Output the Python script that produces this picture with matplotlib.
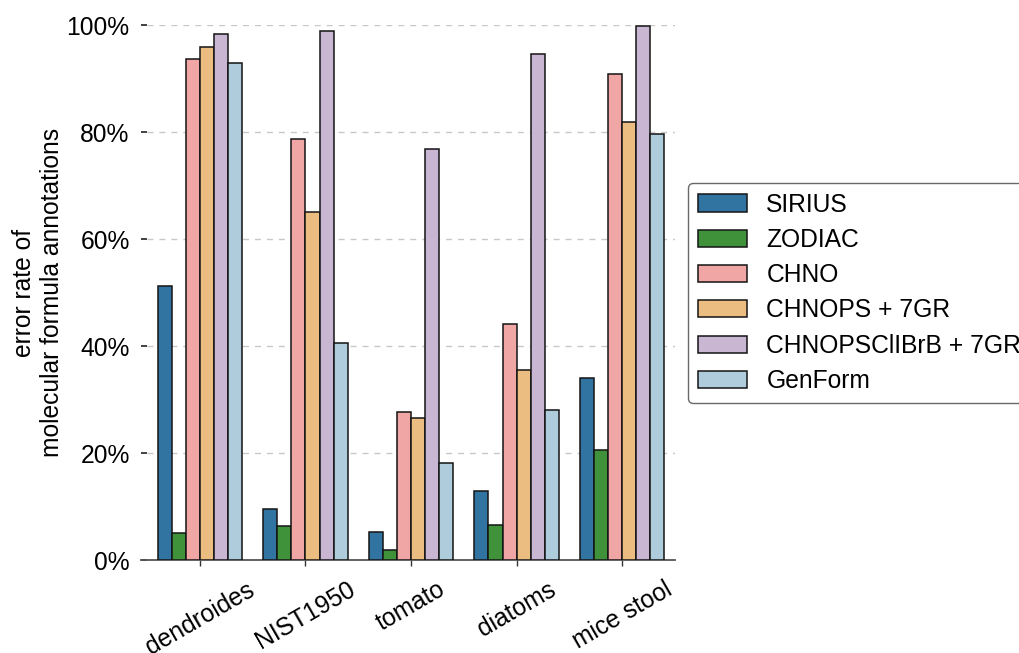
import numpy as np
import matplotlib
matplotlib.use("Agg")
import matplotlib.pyplot as plt
import seaborn as sns
from matplotlib.ticker import FuncFormatter

# error rates per dataset (fraction of annotations)
datasets = ["dendroides", "NIST1950", "tomato", "diatoms", "mice stool"]
methods = ["SIRIUS", "ZODIAC", "CHNO", "CHNOPS + 7GR", "CHNOPSClIBrB + 7GR", "GenForm"]

sirius = [0.513, 0.096, 0.052, 0.129, 0.341]
zodiac = [0.050, 0.064, 0.019, 0.065, 0.205]
chno = [0.936, 0.787, 0.277, 0.441, 0.908]
chnops = [0.959, 0.650, 0.266, 0.355, 0.818]
chnopscl = [0.984, 0.989, 0.768, 0.946, 0.999]
genform = [0.929, 0.405, 0.181, 0.280, 0.796]

series = [sirius, zodiac, chno, chnops, chnopscl, genform]

pal = sns.color_palette("Paired")
colors = [sns.desaturate(pal[i], 0.75) for i in (1, 3, 4, 6, 8, 0)]

fs = 17.7
plt.rcParams['font.family'] = ['Liberation Sans', 'DejaVu Sans']
plt.rcParams['font.size'] = fs

fig = plt.figure(figsize=(10.19, 6.53), dpi=100)
ax = fig.add_axes([0.1443, 0.1424, 0.5181, 0.8193])

x = np.arange(len(datasets))
n = len(series)
w = 0.8 / n
for i, (vals, name, c) in enumerate(zip(series, methods, colors)):
    ax.bar(x - 0.4 + w * (i + 0.5), vals, width=w, color=c, label=name,
           edgecolor="#141414", linewidth=1.1, zorder=3)

ax.set_xlim(-0.5, 4.5)
ax.set_ylim(0, 1.0)
ax.set_yticks(np.arange(0, 1.01, 0.2))
ax.yaxis.set_major_formatter(FuncFormatter(lambda v, p: f"{v * 100:.0f}%"))
ax.set_xticks(x)
ax.set_xticklabels(datasets, rotation=30, ha="center")

ax.grid(axis="y", color="#c8c8c8", linestyle=(0, (4.3, 4.3)), linewidth=1.0, zorder=0)
ax.set_axisbelow(True)

for s in ("top", "right", "left"):
    ax.spines[s].set_visible(False)
ax.spines["bottom"].set_color("#555555")
ax.spines["bottom"].set_linewidth(1.3)
ax.spines["bottom"].set_bounds(-0.56, 4.5)
ax.tick_params(axis="y", direction="out", length=4.5, width=1.3, color="#333333", pad=8)
ax.tick_params(axis="x", direction="out", length=4.5, width=1.0, color="#333333", pad=8)

ax.set_ylabel("error rate of\nmolecular formula annotations", fontsize=fs)
ax.yaxis.set_label_coords(-0.157, 0.5)

leg = fig.legend(loc="upper left", bbox_to_anchor=(0.6749, 0.7202), borderaxespad=0,
                 frameon=True, fancybox=True, fontsize=fs, labelspacing=0.46)
leg.get_frame().set_edgecolor("#444444")
leg.get_frame().set_linewidth(1.0)

fig.savefig("out.png", dpi=100)
